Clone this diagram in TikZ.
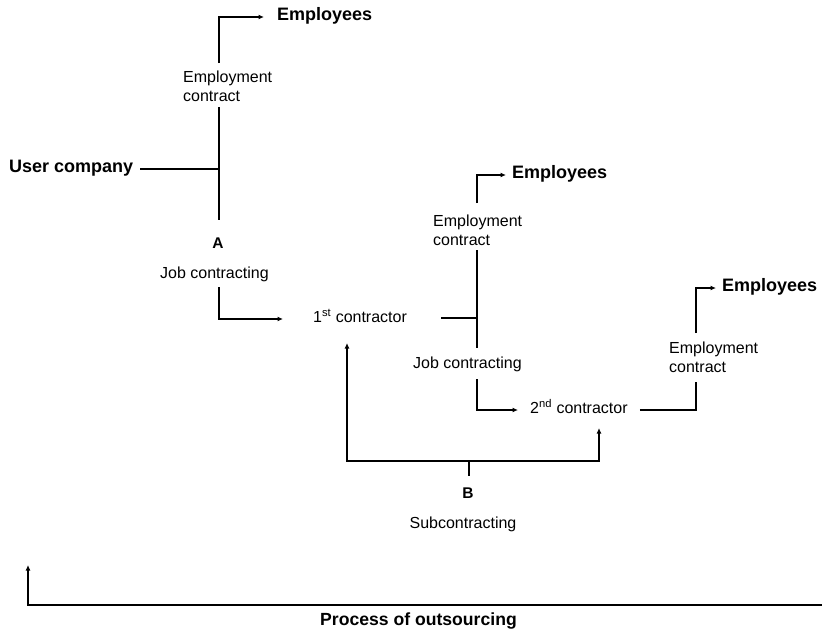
\documentclass[tikz,border=0pt]{standalone}
\usepackage{fontspec}
\setmainfont{Liberation Sans}
\usetikzlibrary{arrows.meta}
\begin{document}
\begin{tikzpicture}[x=1pt,y=-1pt,
  line/.style={line width=2pt},
  arr/.style={line width=2pt,-{Latex[length=5.5pt,width=5pt]}},
  lbl/.style={inner sep=0pt,anchor=west,text height=0.716em,text depth=0pt},
  big/.style={lbl,font=\fontsize{18}{20}\selectfont\bfseries},
  small/.style={lbl,font=\fontsize{16}{19}\selectfont},
  twoline/.style={inner sep=0pt,anchor=west,align=left,font=\fontsize{16}{19}\selectfont},
  letter/.style={inner sep=0pt,anchor=center,text height=0.716em,text depth=0pt,font=\fontsize{15.5}{18}\selectfont\bfseries}]
\useasboundingbox (0,0) rectangle (822,633);

% ---- user company and its contracts
\node[big]     (emp1) at (277,17)  {Employees};
\node[twoline] (ec1)  at (183,86.5) {Employment\\contract};
\node[big]     (uc)   at (9,169)   {User company};
\node[letter]  (A)    at (218,245) {A};
\node[small]   (jc1)  at (160,275) {Job contracting};

% ---- first contractor
\node[small]   (c1)   at (313,319) {1\textsuperscript{st} contractor};
\node[big]     (emp2) at (512,175) {Employees};
\node[twoline] (ec2)  at (433,230) {Employment\\contract};
\node[small]   (jc2)  at (413,365) {Job contracting};

% ---- second contractor
\node[small]   (c2)   at (530,410) {2\textsuperscript{nd} contractor};
\node[big]     (emp3) at (722,288) {Employees};
\node[twoline] (ec3)  at (669,357) {Employment\\contract};

% ---- subcontracting bracket and outsourcing axis
\node[letter]  (B)    at (468,495) {B};
\node[small,anchor=center] (sub) at (463,525) {Subcontracting};
\node[lbl,font=\fontsize{17.6}{20}\selectfont\bfseries] (proc) at (320,622) {Process of outsourcing};

% junction points
\coordinate (a0) at (219,63);
\coordinate (a1) at (219,107);
\coordinate (aj) at (219,169);
\coordinate (a2) at (219,220);
\coordinate (a3) at (219,287);
\coordinate (b0) at (477,203);
\coordinate (b1) at (477,250);
\coordinate (bj) at (477,318);
\coordinate (b2) at (477,348);
\coordinate (b3) at (477,379);
\coordinate (d0) at (696,333);
\coordinate (d1) at (696,382);
\coordinate (p1) at (347,343);
\coordinate (pm) at (469,461);
\coordinate (pt) at (469,476);
\coordinate (p2) at (599,428);
\coordinate (q1) at (823,605);
\coordinate (q2) at (28,565);

% ---- connectors: user company
\draw[arr,shorten >=13pt] (a0) |- (emp1.west);
\draw[line] (a1) -- (a2);
\draw[line,shorten <=7pt] (uc.east) -- (aj);
\draw[arr,shorten >=30pt] (a3) |- (c1.west);

% ---- connectors: first contractor
\draw[arr,shorten >=6pt] (b0) |- (emp2.west);
\draw[line] (b1) -- (b2);
\draw[line,shorten <=34pt] (c1.east |- bj) -- (bj);
\draw[arr,shorten >=12pt] (b3) |- (c2.west);

% ---- connectors: second contractor
\draw[line,shorten <=12pt] (c2.east) -| (d1);
\draw[arr,shorten >=6pt] (d0) |- (emp3.west);

% ---- subcontracting bracket
\draw[line,{Latex[length=5.5pt,width=5pt]}-{Latex[length=5.5pt,width=5pt]}] (p1) |- (pm) -| (p2);
\draw[line] (pm) -- (pt);

% ---- outsourcing axis
\draw[line,line width=2.6pt,-{Latex[length=5.5pt,width=5pt]}] (q1) -| (q2);
\end{tikzpicture}
\end{document}
